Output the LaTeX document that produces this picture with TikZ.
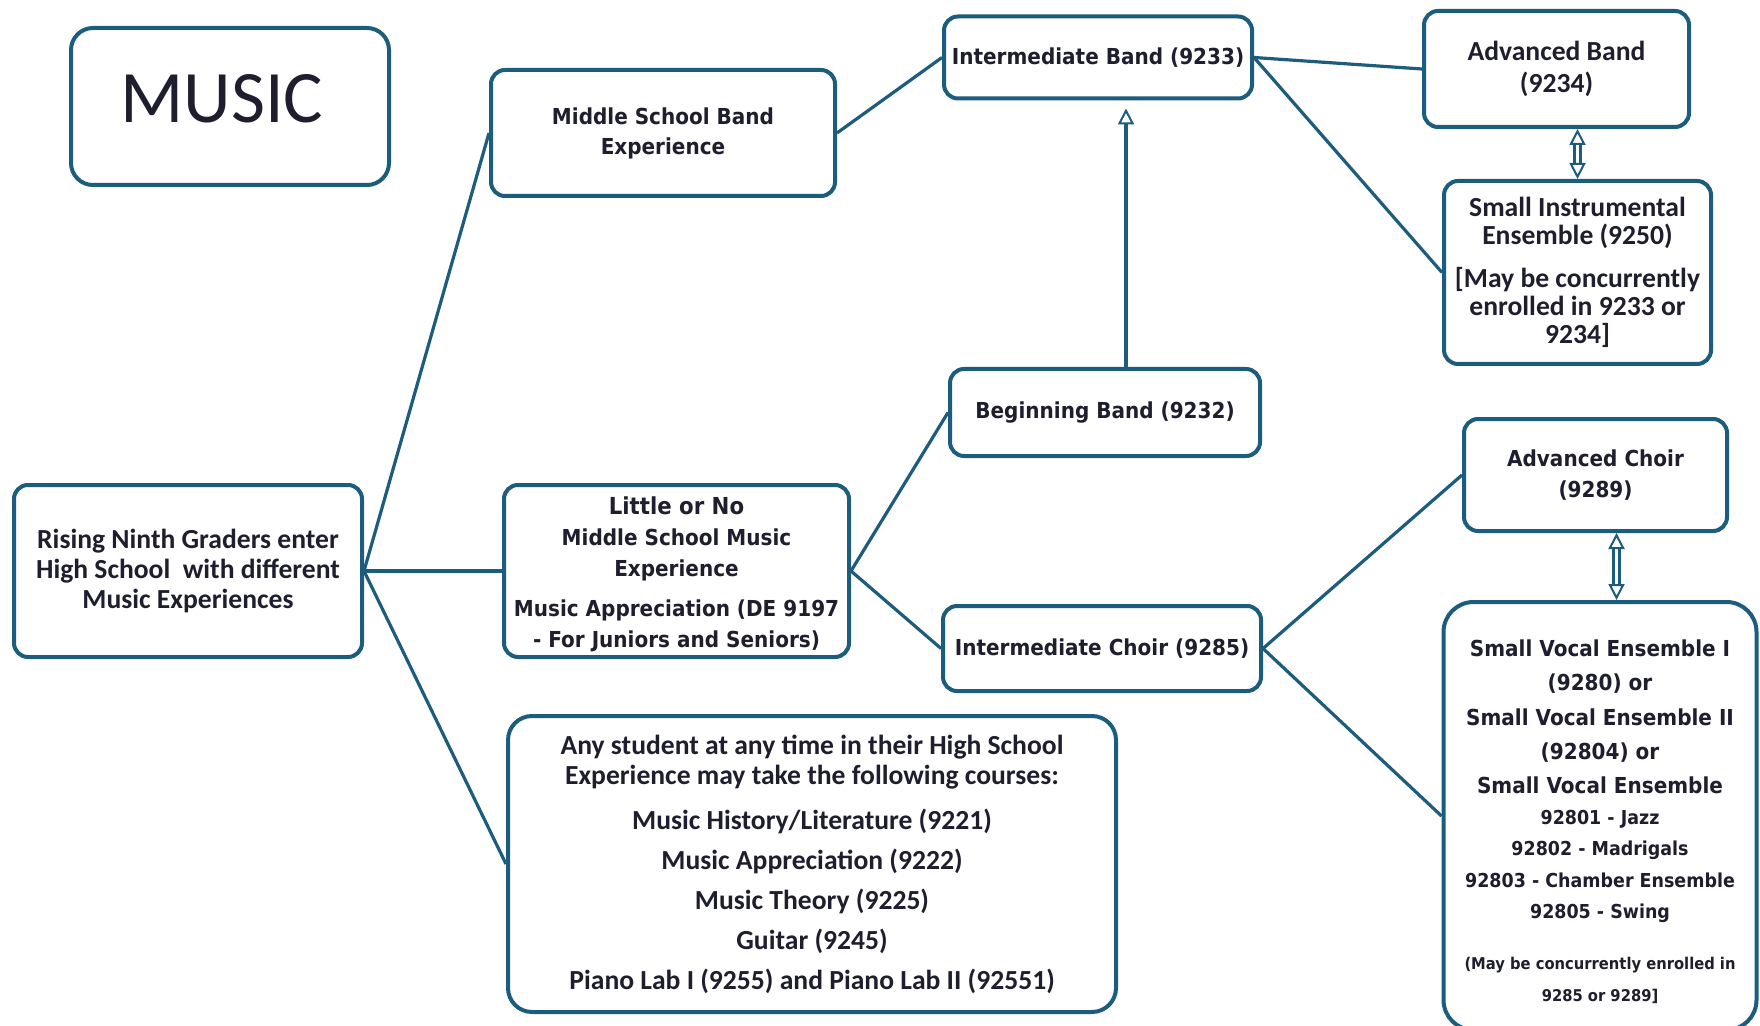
\documentclass[tikz,border=0pt]{standalone}
\usepackage{fontspec}
\usetikzlibrary{arrows.meta}
\newfontfamily\calibri{Carlito}
\newfontfamily\calibrib{Carlito}[UprightFont={* Bold}]
\newfontfamily\tahoma{DejaVu Sans}[FakeStretch=0.91]
\definecolor{boxblue}{RGB}{28,92,124}
\definecolor{ink}{RGB}{30,30,46}

\begin{document}
\begin{tikzpicture}[x=0.5pt,y=-0.5pt,>={Triangle[open,length=8pt,width=8pt,line width=1pt]},
  box/.style={draw=boxblue,line width=2pt,rounded corners=7pt,fill=white,align=center,text=ink,inner sep=2pt},
  cal/.style={font=\calibrib\fontsize{13.8}{#1}\selectfont},cal/.default=15,
  tah/.style={font=\tahoma\bfseries\fontsize{11}{#1}\selectfont},tah/.default=15,
  link/.style={draw=boxblue,line width=1.6pt},
  updown/.style={draw=boxblue,<->,double=white,double distance=1.6pt,line width=1.4pt}]
\clip (0,0) rectangle (1760,1026);
\node[box,rounded corners=11pt,minimum width=159pt,minimum height=78.5pt,text depth=8.4pt,font=\calibri\fontsize{37}{40}\selectfont] (music) at (230,106.5) {MUSIC\kern8pt};
\node[box,cal,minimum width=174pt,minimum height=86pt] (rising) at (188,571) {Rising Ninth Graders enter\\High School~ with different\\Music Experiences};
\node[box,tah,minimum width=172pt,minimum height=63pt] (msb) at (663,133) {Middle School Band\\Experience};
\node[box,tah=15.5,minimum width=172.5pt,minimum height=86pt] (little) at (676.5,571) {{\fontsize{11.7}{15.5}\selectfont\rule{0pt}{11.7pt}Little or No}\\Middle School Music\\Experience\\[4.5pt]Music Appreciation (DE 9197\\- For Juniors and Seniors)};
\node[box,cal,rounded corners=12pt,minimum width=304pt,minimum height=148pt] (anystud) at (812,864) {Any student at any time in their High School\\Experience may take the following courses:\\[7.5pt]Music History/Literature (9221)\\[5pt]Music Appreciation (9222)\\[5pt]Music Theory (9225)\\[5pt]Guitar (9245)\\[5pt]Piano Lab I (9255) and Piano Lab II (92551)};
\node[box,tah,minimum width=154pt,minimum height=41pt] (intband) at (1098,57.5) {Intermediate Band (9233)};
\node[box,tah,minimum width=155pt,minimum height=43.5pt] (begband) at (1105,412.5) {Beginning Band (9232)};
\node[box,tah,minimum width=159pt,minimum height=42.5pt] (intchoir) at (1102,648.5) {Intermediate Choir (9285)};
\node[box,cal=16,minimum width=132.5pt,minimum height=58pt] (advband) at (1556.5,69) {Advanced Band\\(9234)};
\node[box,cal=14.2,minimum width=133.5pt,minimum height=91.5pt] (sminst) at (1577.5,272.5) {Small Instrumental\\Ensemble (9250)\\[7pt][May be concurrently\\enrolled in 9233 or\\9234]};
\node[box,tah=15.5,minimum width=131.5pt,minimum height=56pt] (advchoir) at (1595.5,475) {Advanced Choir\\(9289)};
\node[box,tah=15.6,rounded corners=15pt,minimum width=156.5pt,minimum height=214pt] (vocal) at (1600,816) {\rule{0pt}{14pt}Small Vocal Ensemble I\\[1.5pt](9280) or\\[1.5pt]Small Vocal Ensemble II\\[1.5pt](92804) or\\[1.5pt]Small Vocal Ensemble\\{\fontsize{9.6}{16}\selectfont 92801 - Jazz}\\{\fontsize{9.6}{16}\selectfont 92802 - Madrigals}\\{\fontsize{9.6}{16}\selectfont 92803 - Chamber Ensemble}\\{\fontsize{9.6}{16}\selectfont 92805 - Swing}\\[10.2pt]{\fontsize{8.1}{10}\selectfont (May be concurrently enrolled in}\\{\fontsize{8.1}{10}\selectfont 9285 or 9289]}};
\draw[link] (rising.east) -- (msb.west);
\draw[link] (rising.east) -- (little.west);
\draw[link] (rising.east) -- (anystud.west);
\draw[link] (msb.east) -- (intband.west);
\draw[link] (little.east) -- (begband.west);
\draw[link] (little.east) -- (intchoir.west);
\draw[link] (intband.east) -- (advband.west);
\draw[link] (intband.east) -- (sminst.west);
\draw[link] (intchoir.east) -- (advchoir.west);
\draw[link] (intchoir.east) -- (vocal.west);
\coordinate (bbtop) at ([xshift=10.5pt]begband.north);
\draw[link,->,shorten >=4pt] (bbtop) -- (bbtop |- intband.south);
\draw[updown] (sminst.north) -- (sminst.north |- advband.south);
\coordinate (acbot) at ([xshift=10.5pt]advchoir.south);
\draw[updown] (acbot) -- (acbot |- vocal.north);
\end{tikzpicture}
\end{document}
